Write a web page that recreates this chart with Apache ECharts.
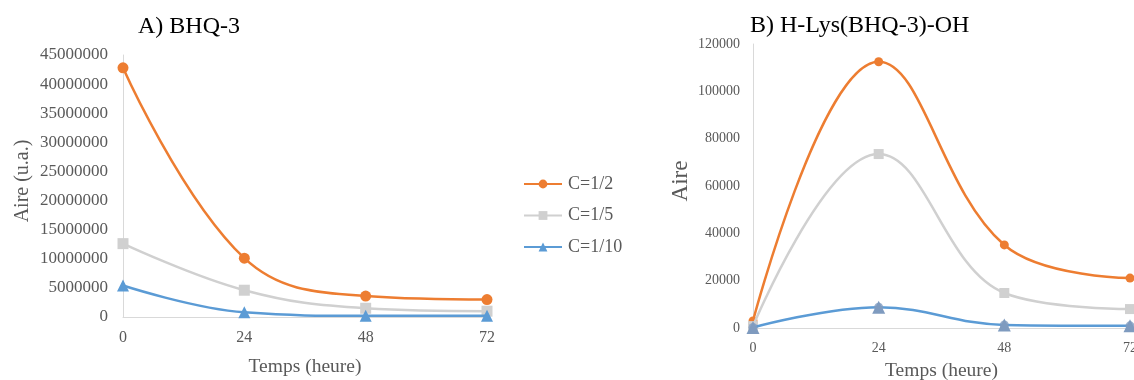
<!DOCTYPE html>
<html><head><meta charset="utf-8">
<script src="https://cdn.jsdelivr.net/npm/echarts@6/dist/echarts.min.js"></script>
<style>html,body{margin:0;padding:0;background:#fff}#c{width:1134px;height:380px}</style>
</head><body><div id="c"></div>
<script>
const hours = [0, 24, 48, 72];
const seriesNames = ['C=1/2', 'C=1/5', 'C=1/10'];
// Panel A) BHQ-3
const a_c2 = [42800000, 10100000, 3600000, 3000000];
const a_c5 = [12600000, 4600000, 1500000, 1000000];
const a_c10 = [5400000, 800000, 200000, 200000];
// Panel B) H-Lys(BHQ-3)-OH
const b_c2 = [3000, 112500, 35100, 21100];
const b_c5 = [800, 73500, 14800, 8000];
const b_c10 = [200, 8800, 1300, 900];

const FONT = '"Liberation Serif", "Times New Roman", serif';
const colors = ['#ED7D31', '#D0D0D0', '#5B9BD5'];
const symbols = ['circle', 'rect', 'triangle'];
const markerB10 = '#7F9BBF';

function pts(arr){ return hours.map((h,i)=>[h, arr[i]]); }

const axisLine = {show:true, lineStyle:{color:'#D9D9D9', width:1}};
function xAx(gi, fs, gap, nfs){
  return {gridIndex:gi, type:'value', min:0, max:72, interval:24,
    axisLine:axisLine, axisTick:{show:false}, splitLine:{show:false},
    axisLabel:{color:'#595959', fontFamily:FONT, fontSize:fs, margin:13, formatter:v=>String(v)},
    name:'Temps (heure)', nameLocation:'middle', nameGap:gap,
    nameTextStyle:{color:'#595959', fontFamily:FONT, fontSize:nfs}};
}
function yAx(gi, max, interval, fs, margin, name, gap, nfs){
  return {gridIndex:gi, type:'value', min:0, max:max, interval:interval,
    axisLine:axisLine, axisTick:{show:false}, splitLine:{show:false},
    axisLabel:{color:'#595959', fontFamily:FONT, fontSize:fs, margin:margin, formatter:v=>String(v)},
    name:name, nameLocation:'middle', nameGap:gap, nameRotate:90,
    nameTextStyle:{color:'#595959', fontFamily:FONT, fontSize:nfs, padding:[0,0,0,10]}};
}
function ser(i, data, gi, symSize){
  return {name:seriesNames[i], type:'line', xAxisIndex:gi, yAxisIndex:gi,
    data:pts(data), smooth:0.4, symbol:symbols[i], symbolSize:symSize,
    showSymbol:true, clip:false, z:2+i,
    lineStyle:{color:colors[i], width:2.5}, itemStyle:{color: (gi===1 && i===2) ? markerB10 : colors[i]}};
}

const chart = echarts.init(document.getElementById('c'), null, {renderer:'canvas'});
chart.setOption({
  animation:false,
  backgroundColor:'#fff',
  title:[
    {text:'A) BHQ-3', left:133, top:10, textStyle:{fontFamily:FONT, fontSize:24, fontWeight:'normal', color:'#000'}},
    {text:'B) H-Lys(BHQ-3)-OH', left:745, top:9, textStyle:{fontFamily:FONT, fontSize:24, fontWeight:'normal', color:'#000'}}
  ],
  legend:{orient:'vertical', left:518, top:170, itemWidth:38, itemHeight:11, itemGap:13.5,
    data:seriesNames,
    textStyle:{fontFamily:FONT, fontSize:18, color:'#595959', padding:[0,0,0,1]}},
  grid:[
    {left:123, right:647, top:55, bottom:63, outerBoundsMode:'none', containLabel:false},
    {left:753, right:4, top:44, bottom:52, outerBoundsMode:'none', containLabel:false}
  ],
  xAxis:[xAx(0, 16, 40, 19.5), xAx(1, 14, 33, 19.5)],
  yAxis:[yAx(0, 45000000, 5000000, 17, 15, 'Aire (u.a.)', 90, 20),
         yAx(1, 120000, 20000, 14, 13, 'Aire', 61, 23)],
  series:[
    ser(0, a_c2, 0, 11), ser(1, a_c5, 0, 11), ser(2, a_c10, 0, 12),
    ser(0, b_c2, 1, 9), ser(1, b_c5, 1, 10), ser(2, b_c10, 1, 13),
    {name:'C=1/10', type:'scatter', xAxisIndex:1, yAxisIndex:1, data:pts(b_c10),
     symbol:'circle', symbolSize:9, z:6, clip:false, itemStyle:{color:markerB10}, legendHoverLink:false}
  ]
});
</script></body></html>
